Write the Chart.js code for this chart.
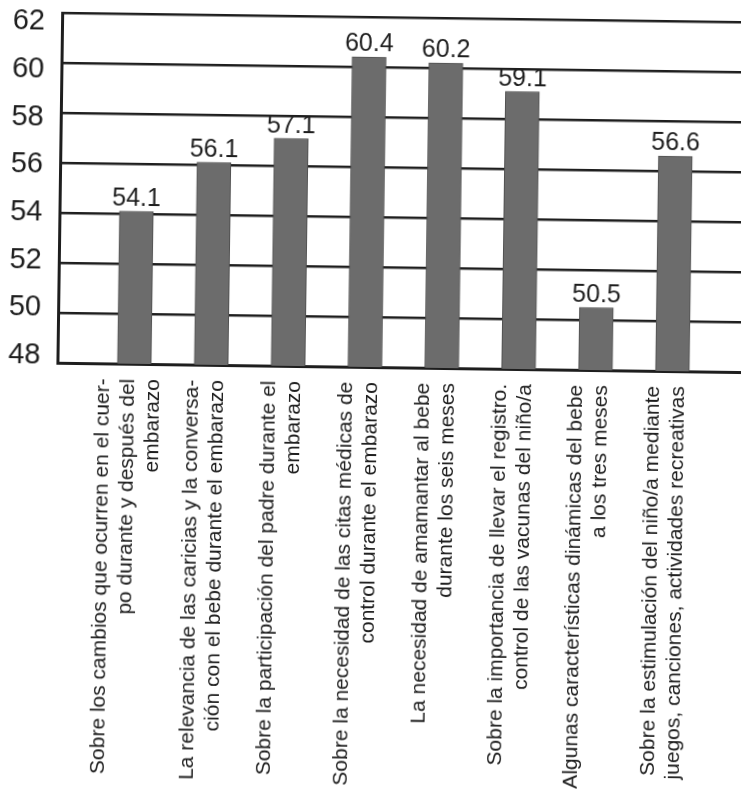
<!DOCTYPE html>
<html><head><meta charset="utf-8">
<script src="https://cdn.jsdelivr.net/npm/chart.js@4.4.1/dist/chart.umd.min.js"></script>
<style>
html,body{margin:0;padding:0;background:#fff;overflow:hidden;width:741px;height:793px;}
#wrap{position:absolute;left:0;top:0;width:772px;height:793px;transform:rotate(0.78deg);transform-origin:370px 396px;}
canvas{display:block;}
</style></head><body>
<div id="wrap"><canvas id="c" width="772" height="793"></canvas></div>
<script>
// ---- data ----
const categories = [
  ["Sobre los cambios que ocurren en el cuer-", "po durante y después del", "embarazo"],
  ["La relevancia de las caricias y la conversa-", "ción con el bebe durante el embarazo"],
  ["Sobre la participación del padre durante el", "embarazo"],
  ["Sobre la necesidad de las citas médicas de", "control durante el embarazo"],
  ["La necesidad de amamantar al bebe", "durante los seis meses"],
  ["Sobre la importancia de llevar el registro.", "control de las vacunas del niño/a"],
  ["Algunas características dinámicas del bebe", "a los tres meses"],
  ["Sobre la estimulación del niño/a mediante", "juegos, canciones, actividades recreativas"]
];
const values = [54.1, 56.1, 57.1, 60.4, 60.2, 59.1, 50.5, 56.6];
const yTickValues = [48, 50, 52, 54, 56, 58, 60, 62];

// ---- layout / style ----
const FONT = '"Liberation Sans", Arial, Helvetica, sans-serif';
const INK = '#1e1e1e';
const PX_PER_UNIT = 76.9;
const LINE_H = 25;

const valueLabels = {
  id: 'valueLabels',
  afterDraw(chart) {
    const ctx = chart.ctx;
    const meta = chart.getDatasetMeta(0);
    ctx.save();
    ctx.font = '25px ' + FONT;
    ctx.fillStyle = INK;
    ctx.textAlign = 'center';
    ctx.textBaseline = 'alphabetic';
    meta.data.forEach((bar, i) => {
      ctx.fillText(values[i].toFixed(1), bar.x, bar.y - 6);
    });
    ctx.restore();
  }
};

new Chart(document.getElementById('c'), {
  type: 'bar',
  data: {
    datasets: [{
      data: values.map((v, i) => ({ x: i, y: v })),
      backgroundColor: '#6c6c6c',
      borderColor: '#505050',
      borderWidth: 1,
      barThickness: 34
    }]
  },
  options: {
    responsive: false,
    animation: false,
    devicePixelRatio: 1,
    layout: { padding: { top: 17, left: 0, right: 0, bottom: 0 } },
    plugins: { legend: { display: false }, tooltip: { enabled: false } },
    scales: {
      x: {
        type: 'linear',
        offset: false,
        min: -1,
        max: 8.3,
        grid: { display: false, drawTicks: false },
        border: { display: true, color: INK, width: 3 },
        afterBuildTicks(scale) {
          scale.ticks = categories.map((lines, i) => ({
            value: i + (-6 - (lines.length - 1) * LINE_H / 2) / PX_PER_UNIT
          }));
        },
        afterFit(scale) {
          scale.height = 793 - 367;
          scale.paddingLeft = 0;
          scale.paddingRight = 0;
        },
        ticks: {
          autoSkip: false,
          minRotation: 90,
          maxRotation: 90,
          padding: 15,
          color: INK,
          font: { family: FONT, size: 21, lineHeight: LINE_H / 21 },
          callback: (value, index) => categories[index]
        }
      },
      y: {
        min: 48,
        max: 62,
        z: 1,
        weight: 0,
        ticks: { display: false, stepSize: 2 },
        grid: { color: INK, lineWidth: 2.5, drawTicks: false },
        border: { display: false },
        afterFit(scale) {
          scale.width = 0;
          scale.paddingTop = 0;
          scale.paddingBottom = 0;
        }
      },
      y2: {
        position: 'left',
        min: 47.695,
        max: 62.395,
        z: 1,
        weight: 1,
        grid: { display: false, drawTicks: false },
        border: { display: true, color: INK, width: 3 },
        afterBuildTicks(scale) {
          scale.ticks = yTickValues.map(v => ({ value: v }));
        },
        afterFit(scale) {
          scale.width = 57;
          scale.paddingTop = 0;
          scale.paddingBottom = 0;
        },
        ticks: {
          padding: 17,
          color: INK,
          font: { family: FONT, size: 29 },
          callback: (value) => String(value)
        }
      }
    }
  },
  plugins: [valueLabels]
});
</script>
</body></html>
